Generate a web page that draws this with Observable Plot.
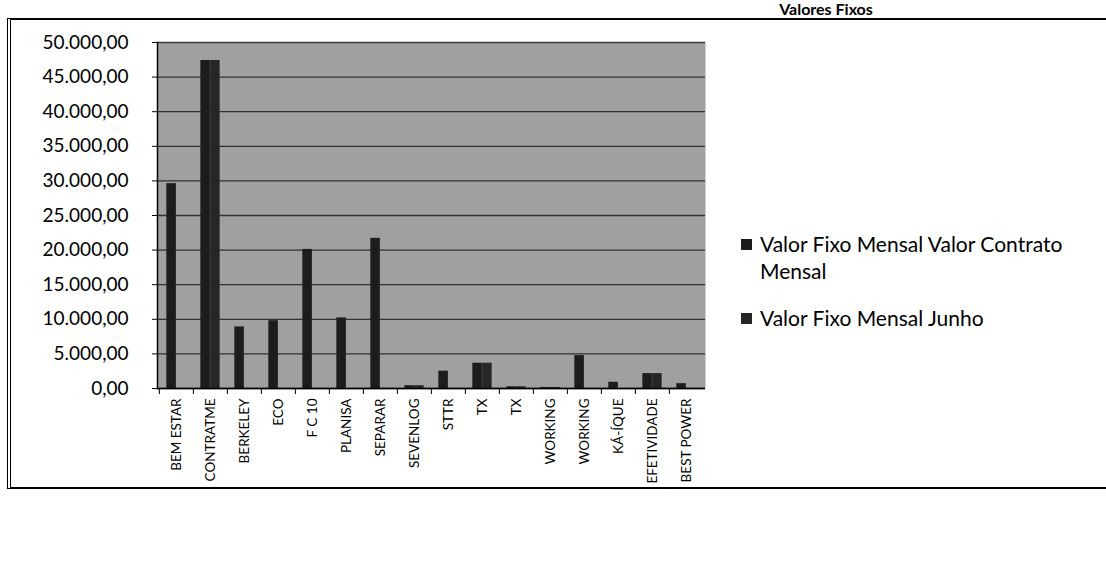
<!DOCTYPE html>
<html>
<head>
<meta charset="utf-8">
<script src="https://cdn.jsdelivr.net/npm/d3@7"></script>
<script src="https://cdn.jsdelivr.net/npm/@observablehq/plot@0.6"></script>
<style>
  html, body { margin: 0; padding: 0; background: #fff; }
  #wrap { position: relative; width: 1106px; height: 563px; overflow: hidden; font-family: Lato, "Open Sans", sans-serif; }
  #title { position: absolute; left: 736px; top: 1px; width: 180px; text-align: center; font-weight: bold; font-size: 16px; line-height: 16px; color: #000; }
  #border { position: absolute; left: 7px; top: 18px; width: 1120px; height: 467px; border-left: 4px double #000; border-top: 2px solid #000; border-bottom: 2px solid #000; }
  #legend { position: absolute; left: 741px; top: 230px; font-size: 21px; color: #000; line-height: 27px; }
  .item { position: relative; padding-left: 19px; margin-bottom: 20px; }
  .sw { position: absolute; left: 0; top: 9px; width: 11px; height: 11px; }
  #chart { position: absolute; left: 0; top: 0; }
</style>
</head>
<body>
<div id="wrap">
  <div id="border"></div>
  <div id="chart"></div>
  <div id="title">Valores Fixos</div>
  <div id="legend"></div>
</div>
<script>
const categories = ["BEM ESTAR","CONTRATME","BERKELEY","ECO","F C 10","PLANISA","SEPARAR","SEVENLOG","STTR","TX","TX","WORKING","WORKING","KÁ-ÍQUE","EFETIVIDADE","BEST POWER"];
const seriesNames = ["Valor Fixo Mensal Valor Contrato Mensal", "Valor Fixo Mensal Junho"];
const valorContrato = [29600, 47400, 8900, 9800, 20100, 10200, 21700, 400, 2500, 3650, 250, 150, 4750, 900, 2150, 700];
const junho         = [0,     47400, 0,    0,    0,     0,     0,     400, 0,    3650, 250, 150, 0,    0,   2150, 0];
const yTicks = [0,5000,10000,15000,20000,25000,30000,35000,40000,45000,50000];
const colors = ["#1c1c1c", "#262626"];

const rows1 = categories.map((c, i) => ({i, value: valorContrato[i]}));
const rows2 = categories.map((c, i) => ({i, value: junho[i]}));

const locale = d3.formatLocale({decimal: ",", thousands: ".", grouping: [3], currency: ["R$", ""]});
const fmt = locale.format(",.2f");

const W = 1106, H = 563, mL = 157, mR = 401, mT = 42, mB = 175;
const bw = (W - mL - mR) / categories.length;   // band width
const barW = bw / 3.5;                            // Excel gap width 150%
const gap = (bw - 2 * barW) / 2;

const chart = Plot.plot({
  width: W, height: H,
  marginLeft: mL, marginRight: mR, marginTop: mT, marginBottom: mB,
  style: {fontFamily: "Lato, 'Open Sans', sans-serif", color: "#000", background: "transparent"},
  x: {domain: d3.range(categories.length), padding: 0, label: null},
  y: {domain: [0, 50000], label: null},
  marks: [
    Plot.frame({fill: "#a0a0a0", stroke: null}),
    Plot.gridY(yTicks, {stroke: "#1e1e1e", strokeOpacity: 0.85, strokeWidth: 1.3}),
    Plot.barY(rows1, {x: "i", y: "value", fill: colors[0], insetLeft: gap, insetRight: gap + barW}),
    Plot.barY(rows2, {x: "i", y: "value", fill: colors[1], insetLeft: gap + barW, insetRight: gap}),
    Plot.axisY({ticks: yTicks, tickFormat: fmt, tickSize: 5, tickPadding: 24, fontSize: 19, label: null}),
    Plot.frame({anchor: "left", stroke: "#000", strokeWidth: 1.5}),
    Plot.ruleY([0], {stroke: "#000", strokeWidth: 1.5}),
    Plot.axisX({tickFormat: i => categories[i], tickRotate: -90, tickSize: 0, tickPadding: 10, fontSize: 13.5, label: null, anchor: "bottom"}),
    Plot.axisX({tickFormat: () => "", tickSize: 6, dx: -bw / 2, label: null, anchor: "bottom"})
  ]
});
document.getElementById("chart").appendChild(chart);

const legend = document.getElementById("legend");
seriesNames.forEach((name, k) => {
  const it = document.createElement("div");
  it.className = "item";
  const sw = document.createElement("span");
  sw.className = "sw";
  sw.style.background = colors[k];
  it.appendChild(sw);
  const t = document.createElement("span");
  t.innerHTML = k === 0 ? "Valor Fixo Mensal Valor Contrato<br>Mensal" : name;
  it.appendChild(t);
  legend.appendChild(it);
});
</script>
</body>
</html>
